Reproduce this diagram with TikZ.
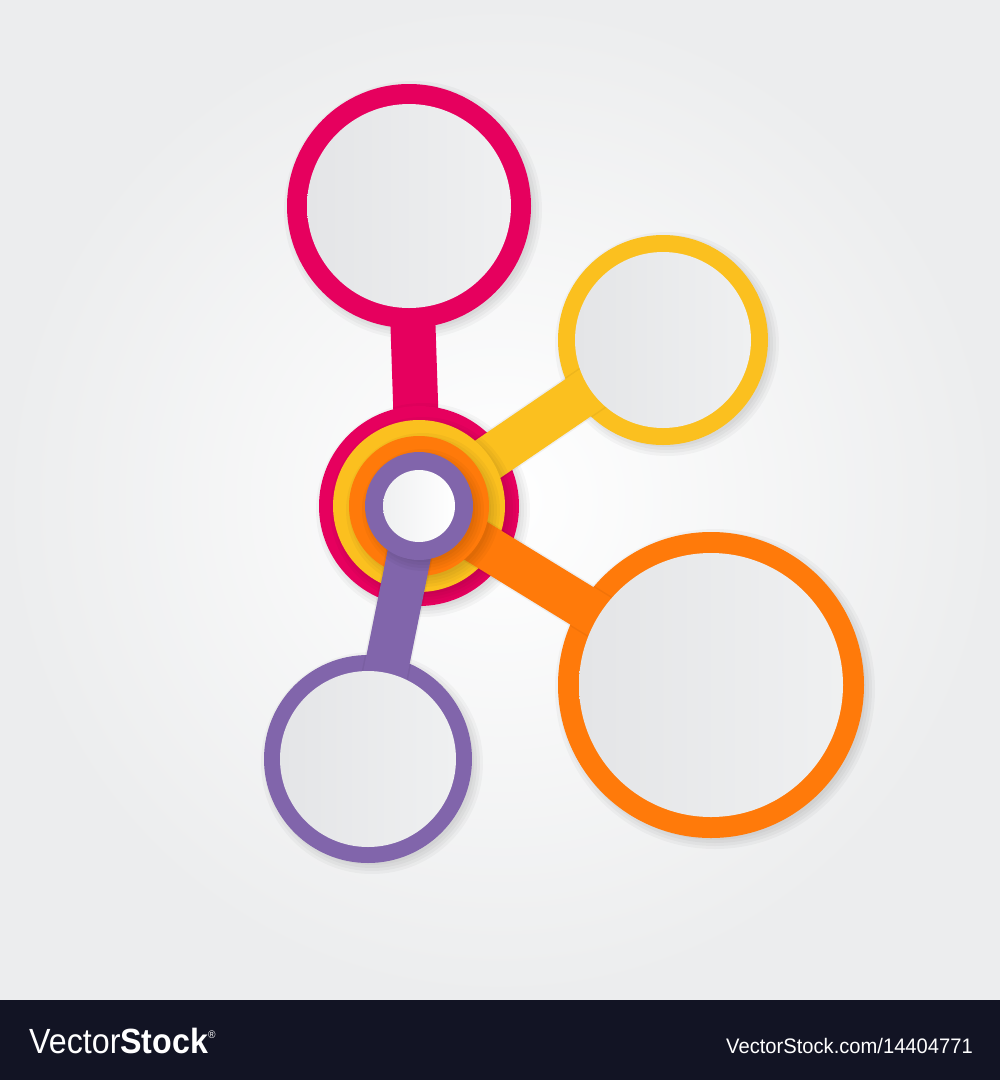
\documentclass[tikz,border=0pt]{standalone}
\usepackage{fontspec}
\setmainfont{Liberation Sans}
\usepackage{graphicx}
\definecolor{pinkc}{HTML}{E6005E}
\definecolor{yellowc}{HTML}{FBC01F}
\definecolor{orangec}{HTML}{FF7A0A}
\definecolor{purplec}{HTML}{8165AB}
\definecolor{faceL}{HTML}{E4E5E7}
\definecolor{faceR}{HTML}{EFF0F1}
\definecolor{bgedge}{HTML}{ECEDEE}
\definecolor{barc}{HTML}{121424}
\newcommand{\cshadow}[2]{%
  \foreach \dd in {-2,1,4,7}{%
    \fill[black, opacity=0.03] ($(#1)+(4,4)$) circle [radius={#2+\dd}];}}
\usetikzlibrary{calc}
\begin{document}
\begin{tikzpicture}[x=1pt,y=-1pt,
  ring/.style={circle, inner sep=0pt, minimum size=#1},
  face/.style={circle, inner sep=0pt, minimum size=#1, left color=faceL, right color=faceR},
  stembar/.style={line width=#1},
  stemshade/.style={line width=#1, black, opacity=0.05, xshift=3pt, yshift=-4pt},
  wmark/.style={anchor=base west, text=white, inner sep=0pt}
]
\useasboundingbox (0,0) rectangle (1000,1080);
% background
\shade[inner color=white, outer color=bgedge] (0,0) rectangle (1000,1000);
\fill[barc] (0,1000) rectangle (1000,1080);

\coordinate (hub) at (419,506);

% pink
\cshadow{409,206}{122}
\node[ring=244pt, fill=pinkc] (pinkO) at (409,206) {};
\draw[stembar=45pt, pinkc] (hub) -- (pinkO.center);
\node[face=204pt] (pinkI) at (pinkO.center) {};
\cshadow{419,506}{100}
\node[ring=200pt, fill=pinkc] (hubP) at (hub) {};

% yellow
\cshadow{663,340}{105}
\node[ring=210pt, fill=yellowc] (yelO) at (663,340) {};
\draw[stemshade=48pt] (hub) -- (yelO.center);
\draw[stembar=45pt, yellowc] (hub) -- (yelO.center);
\node[face=176pt] (yelI) at (yelO.center) {};
\cshadow{419,506}{86}
\node[ring=172pt, fill=yellowc] (hubY) at (hub) {};

% orange
\cshadow{711,685}{153}
\node[ring=306pt, fill=orangec] (oraO) at (711,685) {};
\draw[stemshade=47pt] (hub) -- (oraO.center);
\draw[stembar=44pt, orangec] (hub) -- (oraO.center);
\node[face=264pt] (oraI) at (oraO.center) {};
\cshadow{419,506}{70}
\node[ring=140pt, fill=orangec] (hubO) at (hub) {};

% purple
\cshadow{368,759}{104}
\node[ring=208pt, fill=purplec] (purO) at (368,759) {};
\draw[stemshade=47pt] (hub) -- (purO.center);
\draw[stembar=44pt, purplec] (hub) -- (purO.center);
\node[face=176pt] (purI) at (purO.center) {};
\cshadow{419,506}{54}
\node[ring=108pt, fill=purplec] (hubU) at (hub) {};
\node[circle, inner sep=0pt, minimum size=72pt, left color=faceR, right color=white] (hubW) at (hub) {};

% watermark
\node[wmark, font=\fontsize{35}{35}\selectfont] (logo) at (29,1053)
  {\scalebox{0.92}[1]{Vector\textbf{Stock}\raisebox{15pt}{\fontsize{11}{11}\selectfont ®}}};
\node[wmark, font=\fontsize{21}{21}\selectfont] (url) at (726,1053)
  {\scalebox{0.96}[1]{VectorStock.com/14404771}};
\end{tikzpicture}
\end{document}
